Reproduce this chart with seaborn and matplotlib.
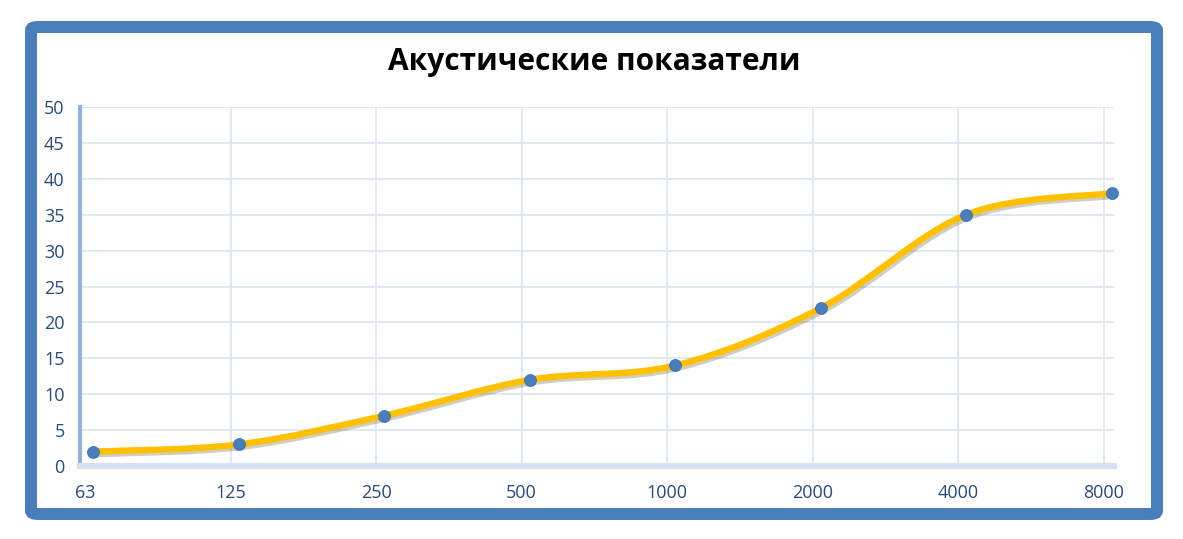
import matplotlib
matplotlib.use("Agg")
import matplotlib.pyplot as plt
import matplotlib.patheffects as pe
from matplotlib.path import Path
from matplotlib.patches import PathPatch, FancyBboxPatch
import seaborn as sns
import numpy as np
import pandas as pd

# data
freq_labels = ["63", "125", "250", "500", "1000", "2000", "4000", "8000"]
values = [2, 3, 7, 12, 14, 22, 35, 38]
y_ticks = [0, 5, 10, 15, 20, 25, 30, 35, 40, 45, 50]
title = "Акустические показатели"

df = pd.DataFrame({"pos": np.arange(len(values)), "value": values})

sns.set_theme(style="white")
plt.rcParams["font.family"] = ["Open Sans", "DejaVu Sans"]

fig = plt.figure(figsize=(11.83, 5.39), dpi=100)
ax = fig.add_axes([80 / 1183, 73 / 539, 1034 / 1183, 359 / 539])

# outer blue frame
frame = FancyBboxPatch((31 / 1183, 25 / 539), 1126 / 1183, 487 / 539,
                       boxstyle="round,pad=0,rounding_size=0.006",
                       transform=fig.transFigure, facecolor="none",
                       edgecolor="#4a7ebb", linewidth=8.6, zorder=0)
fig.patches.append(frame)

# smooth line (Excel-style bezier through the points)
x = df["pos"].to_numpy(dtype=float)
y = df["value"].to_numpy(dtype=float)
pts = np.column_stack([x, y])
verts = [pts[0]]
codes = [Path.MOVETO]
for i in range(len(pts) - 1):
    p0 = pts[i - 1] if i > 0 else pts[i]
    p1, p2 = pts[i], pts[i + 1]
    p3 = pts[i + 2] if i + 2 < len(pts) else pts[i + 1]
    c1 = p1 + (p2 - p0) / 6
    c2 = p2 - (p3 - p1) / 6
    verts += [c1, c2, p2]
    codes += [Path.CURVE4] * 3
curve = PathPatch(Path(verts, codes), facecolor="none", edgecolor="#ffc000",
                  linewidth=4.6, capstyle="round", zorder=3, clip_on=False,
                  path_effects=[pe.SimpleLineShadow(offset=(1.5, -1.8),
                                                    shadow_color="#6b5a3a",
                                                    alpha=0.3),
                                pe.Normal()])
ax.add_patch(curve)

sns.scatterplot(data=df, x="pos", y="value", ax=ax, color="#4a7ebb", s=75,
                edgecolor="#3a6aa8", linewidth=0.5, zorder=4, clip_on=False)

ax.set_xlim(-0.089, 7.014)
ax.set_ylim(0, 50)
x_ticks = np.arange(len(freq_labels)) - 0.055
ax.set_xticks(x_ticks)
ax.set_xticklabels(freq_labels)
ax.set_yticks(y_ticks)
ax.set_xlabel("")
ax.set_ylabel("")

# horizontal grid from ticks, vertical grid skipping the one beside the axis
ax.grid(True, axis="y", color="#dce6f2", linewidth=1.3)
for xt in x_ticks[1:]:
    ax.axvline(xt, color="#dce6f2", linewidth=1.3, zorder=0.5)
ax.set_axisbelow(True)
ax.tick_params(axis="both", length=0, labelsize=13, colors="#2a4a7a")
ax.tick_params(axis="x", pad=13)
ax.tick_params(axis="y", pad=11)

for side in ["top", "right"]:
    ax.spines[side].set_visible(False)
ax.spines["left"].set_color("#95b3d7")
ax.spines["left"].set_linewidth(3)
ax.spines["bottom"].set_color("#d6e2f2")
ax.spines["bottom"].set_linewidth(4.5)

fig.text(594 / 1183, 1 - 62 / 539, title, ha="center", va="center",
         fontsize=21.5, fontweight="bold", color="black")

fig.savefig("out.png", dpi=100, facecolor="white")
